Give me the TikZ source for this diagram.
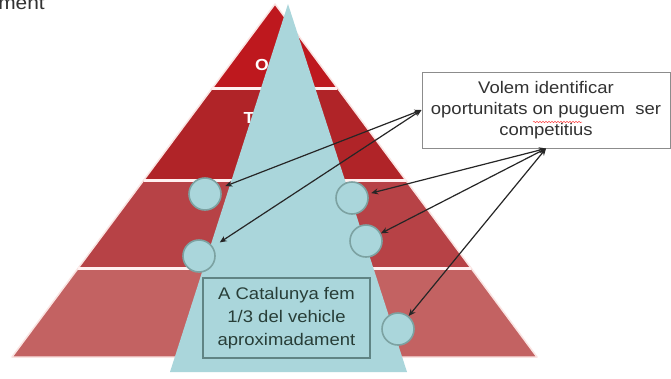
\documentclass[tikz,border=0pt]{standalone}
\usepackage{fontspec}
\setmainfont{Liberation Sans}[FakeStretch=1.1]
\usetikzlibrary{arrows.meta,calc,decorations.pathmorphing}
\definecolor{bandA}{RGB}{190,24,30}
\definecolor{bandB}{RGB}{176,36,40}
\definecolor{bandC}{RGB}{183,66,70}
\definecolor{bandD}{RGB}{195,98,98}
\definecolor{paleblue}{RGB}{170,214,219}
\definecolor{circedge}{RGB}{124,162,162}
\definecolor{lowedge}{RGB}{96,132,132}
\definecolor{lowtext}{RGB}{40,62,56}
\definecolor{boxedge}{RGB}{140,140,140}
\definecolor{boxtext}{RGB}{50,50,50}
\definecolor{edgepink}{RGB}{250,228,226}
\begin{document}
\begin{tikzpicture}[x=1pt,y=-1pt,
  bubble/.style={circle,minimum size=32pt,inner sep=0pt,fill=paleblue,draw=circedge,line width=1.6pt},
  conn/.style={{Stealth[length=7pt,width=6pt]}-{Stealth[length=7pt,width=6pt]},line width=1.2pt,draw=black!85},
  txt/.style={font=\fontsize{16.8}{21}\selectfont,align=center},
  lbl/.style={text=white,font=\fontsize{16}{16}\selectfont\bfseries}]
\useasboundingbox (0,0) rectangle (671,378);
\clip (0,0) rectangle (671,378);
\fill[white] (0,0) rectangle (671,378);
% top-left cut text (cut by the picture's edge, as in the reference)
\node[anchor=base east,text=boxtext,font=\fontsize{19}{19}\selectfont,inner sep=0pt] (cut) at (45,9) {ment};
% pyramid
\coordinate (P) at (275,4);
\coordinate (L) at (12,357);
\coordinate (R) at (537,357);
\coordinate (L1) at ($(P)!0.238!(L)$);
\coordinate (R1) at ($(P)!0.238!(R)$);
\coordinate (L2) at ($(P)!0.4986!(L)$);
\coordinate (R2) at ($(P)!0.4986!(R)$);
\coordinate (L3) at ($(P)!0.7479!(L)$);
\coordinate (R3) at ($(P)!0.7479!(R)$);
\fill[bandA] (P) -- (R1) -- (L1) -- cycle;
\fill[bandB] (L1) -- (R1) -- (R2) -- (L2) -- cycle;
\fill[bandC] (L2) -- (R2) -- (R3) -- (L3) -- cycle;
\fill[bandD] (L3) -- (R3) -- (R) -- (L) -- cycle;
\draw[edgepink,line width=1.5pt,line join=round] (P) -- (R) -- (L) -- cycle;
\draw[white!94!red,line width=3pt] (L1) -- (R1);
\draw[white!94!red,line width=3pt] (L2) -- (R2);
\draw[white!94!red,line width=3pt] (L3) -- (R3);
\node[lbl] (o) at (262,65) {O};
\node[lbl] (t) at (249,118) {T};
% blue triangle
\fill[paleblue] (288,4) -- (407,372) -- (170,372) -- cycle;
% circles
\node[bubble] (c1) at (205,194) {};
\node[bubble] (c2) at (199,256) {};
\node[bubble] (c3) at (352,198) {};
\node[bubble] (c4) at (366,241) {};
\node[bubble] (c5) at (398,329) {};
% lower text box
\node[txt,draw=lowedge,line width=1.2pt,text=lowtext,minimum width=167pt,minimum height=80pt,inner sep=0pt,
  font=\fontsize{16.8}{23}\selectfont] (low) at (286.5,318)
  {A Catalunya fem\\1/3 del vehicle\\aproximadament};
% upper callout box
\node[txt,draw=boxedge,fill=white,line width=1pt,text=boxtext,minimum width=248pt,minimum height=76pt,inner sep=0pt] (box) at (546,110)
  {Volem identificar\\oportunitats on puguem\ \ ser\\competitius};
\draw[red!70,line width=0.5pt,decorate,decoration={snake,amplitude=0.7pt,segment length=3pt}] (533,122) -- (582,122);
% connectors
\draw[conn,shorten >=5pt] (box.west) -- (c1);
\draw[conn,shorten >=8pt] (box.west) -- (c2);
\draw[conn,shorten >=3pt] (box.south) -- (c3);
\draw[conn] (box.south) -- (c4);
\draw[conn] (box.south) -- (c5);
\end{tikzpicture}
\end{document}
